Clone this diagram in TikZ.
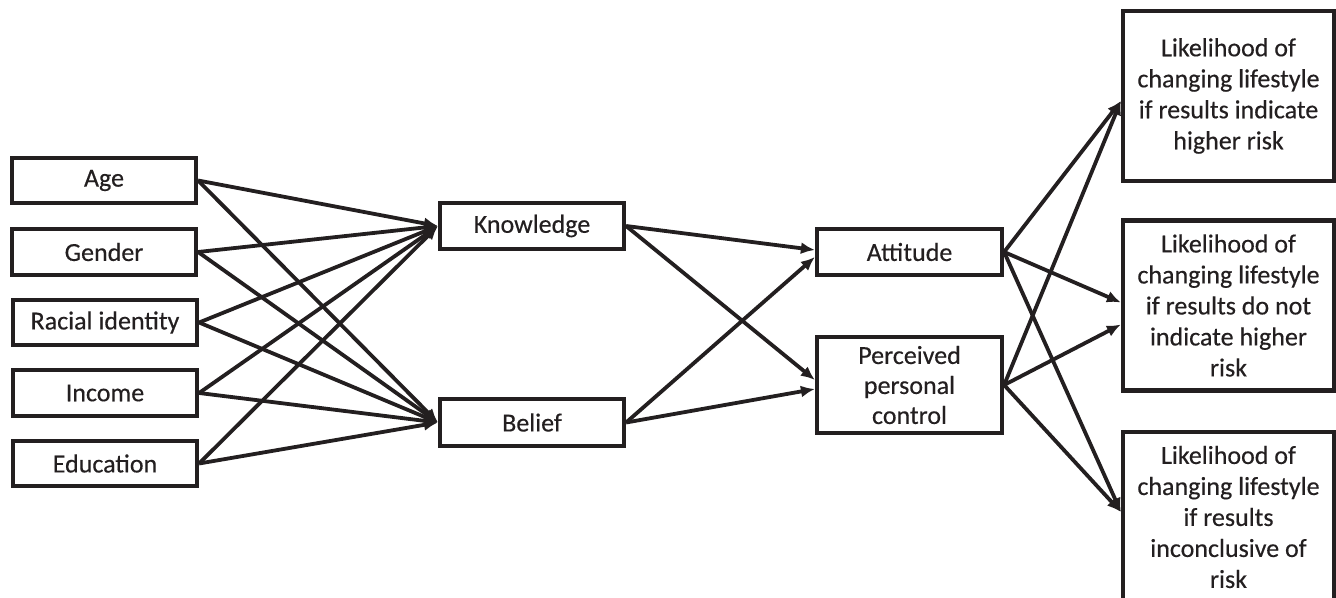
\documentclass[tikz,border=0pt]{standalone}
\usepackage{fontspec}
\setmainfont{Carlito}[FakeBold=0.35]
\usetikzlibrary{arrows.meta,calc}
\definecolor{ink}{RGB}{35,31,32}
\begin{document}
\begin{tikzpicture}[x=0.5pt,y=-0.5pt,
  box/.style={draw=ink, line width=2.1pt, inner sep=0pt, text=ink, align=center,
    font=\fontsize{13}{15.5}\selectfont},
  small/.style={box, minimum width=92pt, minimum height=22.75pt},
  big/.style={box, minimum width=105.5pt, minimum height=85pt},
  arr/.style={draw=ink, line width=1.9pt, -{Latex[length=7pt,width=6pt]}},
]
\useasboundingbox (0,0) rectangle (1336,598);
\clip (0,0) rectangle (1336,598);
% left column
\node[small] (age) at (104,180.5) {Age};
\node[small] (gen) at (104,252) {Gender};
\node[small] (rac) at (105,322.5) {Racial identity};
\node[small] (inc) at (105,393) {Income};
\node[small] (edu) at (105,463.5) {Education};
% middle
\node[small, minimum height=23pt] (kn) at (532,226) {Knowledge};
\node[small, minimum height=23.5pt] (bel) at (532,422.5) {Belief};
\node[small, minimum width=92.5pt, minimum height=23pt] (att) at (909.5,252) {Attitude};
\node[small, minimum width=92.5pt, minimum height=48pt, font=\fontsize{13}{15}\selectfont] (per) at (909.5,385) {Perceived\\personal\\control};
% right
\node[big] (r1) at (1228.5,96) {Likelihood of\\changing lifestyle\\if results indicate\\higher risk};
\node[big] (r2) at (1228.5,305.5) {Likelihood of\\changing lifestyle\\if results do not\\indicate higher\\risk};
\node[big] (r3) at (1228.5,517) {Likelihood of\\changing lifestyle\\if results\\inconclusive of\\risk};
% arrows left -> knowledge / belief
\foreach \s in {age,gen,rac,inc,edu}{
  \draw[arr] (\s.east) -- (kn.west);
  \draw[arr] (\s.east) -- (bel.west);
}
% middle
\draw[arr] (kn.east) -- ($(att.west)+(0,-2)$);
\draw[arr] (bel.east) -- ($(att.west)+(0,5)$);
\draw[arr] (kn.east) -- ($(per.west)+(0,-5)$);
\draw[arr] (bel.east) -- ($(per.west)+(0,4)$);
% right
\draw[arr] (att.east) -- ($(r1.west)+(0,5)$);
\draw[arr] (per.east) -- ($(r1.west)+(0,5)$);
\draw[arr] (att.east) -- ($(r2.west)+(0,-3)$);
\draw[arr] (per.east) -- ($(r2.west)+(0,19)$);
\draw[arr] (att.east) -- ($(r3.west)+(0,-5)$);
\draw[arr] (per.east) -- ($(r3.west)+(0,-5)$);
\end{tikzpicture}
\end{document}
